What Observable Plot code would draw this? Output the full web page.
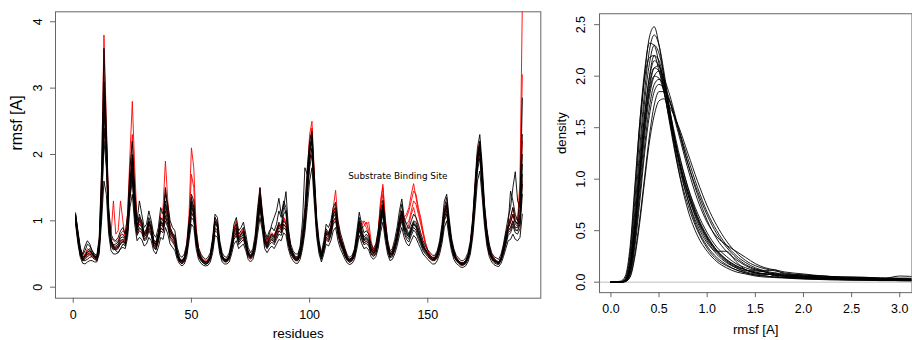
<!DOCTYPE html>
<html><head><meta charset="utf-8">
<script src="https://cdn.jsdelivr.net/npm/d3@7"></script>
<script src="https://cdn.jsdelivr.net/npm/@observablehq/plot@0.6"></script>
<style>
html,body{margin:0;padding:0;background:#fff;}
#fig{position:relative;width:912px;height:340px;overflow:hidden;background:#fff;}
#left{position:absolute;left:0;top:0;}
#right{position:absolute;left:530px;top:0;}
</style></head><body><div id="fig"><div id="left"></div><div id="right"></div></div>
<script>
// ---- left panel data: per-residue RMSF of simulation runs ----
const residues = d3.range(1, 191);

const blackRun1 = [
1.05,.78,.52,.42,.45,.50,.52,.50,.45,.44,
.60,1.30,2.60,2.10,1.00,.68,.60,.60,.62,.70,
.72,.68,.90,1.50,1.80,1.20,.85,.95,.90,.75,
.80,.95,.85,.65,.60,.75,.95,.90,1.15,1.00,
.80,.75,.70,.50,.40,.38,.42,.55,.85,1.20,
1.10,.70,.50,.42,.38,.36,.38,.45,.65,.95,
.90,.60,.45,.40,.40,.45,.60,.80,.85,.70,
.75,.80,.65,.50,.45,.50,.65,1.00,1.30,1.00,
.70,.62,.70,.75,.70,.80,.90,.85,1.00,.95,
.70,.55,.48,.42,.42,.50,.70,1.00,1.50,2.00,
2.20,1.50,.90,.60,.45,.60,.80,.75,.85,1.05,
1.10,.85,.70,.60,.50,.42,.40,.42,.50,.70,
.95,.80,.70,.72,.68,.55,.50,.55,.70,1.00,
1.20,.85,.60,.48,.50,.60,.75,.95,1.10,.90,
.80,.75,.85,.95,.90,.80,.70,.60,.55,.50,
.45,.42,.42,.48,.60,.80,1.10,1.20,.90,.65,
.50,.42,.38,.35,.35,.38,.45,.60,.90,1.40,
1.90,2.10,1.60,1.10,.75,.55,.45,.40,.38,.36,
.42,.55,.70,.85,.90,1.00,.90,.90,1.00,1.70];

const blackRun2 = [
1.10,.85,.60,.48,.55,.65,.62,.55,.50,.48,
.75,1.80,3.60,2.40,1.20,.80,.72,.70,.75,.85,
.90,.80,1.10,1.80,2.20,1.50,1.00,1.30,1.10,.90,
.95,1.15,1.00,.80,.75,.90,1.20,1.10,1.40,1.25,
1.00,.90,.85,.60,.48,.45,.50,.65,1.00,1.40,
1.30,.85,.60,.50,.45,.42,.45,.52,.75,1.10,
1.05,.70,.52,.46,.45,.52,.70,.95,1.05,.85,
.90,.98,.80,.60,.52,.58,.80,1.20,1.50,1.15,
.85,.75,.85,.90,.85,.95,1.15,1.05,1.30,1.20,
.85,.65,.55,.50,.50,.60,.85,1.20,1.80,2.20,
2.35,1.70,1.05,.70,.52,.70,.95,.90,1.00,1.20,
1.28,1.00,.82,.70,.58,.48,.45,.48,.58,.85,
1.13,.95,.82,.85,.80,.65,.58,.65,.85,1.15,
1.31,1.00,.72,.55,.58,.72,.90,1.15,1.33,1.05,
.95,.88,1.00,1.10,1.05,.95,.82,.70,.62,.56,
.52,.48,.48,.55,.70,.95,1.30,1.40,1.05,.75,
.58,.48,.44,.40,.40,.44,.52,.70,1.05,1.60,
2.10,2.30,1.85,1.25,.88,.65,.52,.46,.44,.42,
.50,.65,.85,1.05,1.20,1.50,1.74,1.30,1.20,2.85];

const blackRun3 = [
.95,.65,.45,.36,.35,.38,.40,.40,.38,.38,
.50,1.00,1.60,1.40,.80,.55,.50,.50,.52,.58,
.60,.58,.75,1.20,1.40,.95,.70,.75,.72,.62,
.65,.75,.70,.55,.50,.60,.75,.72,.90,.80,
.65,.60,.55,.42,.35,.32,.35,.45,.70,.95,
.90,.58,.42,.36,.33,.32,.33,.38,.52,.78,
.75,.50,.38,.35,.35,.38,.50,.65,.70,.58,
.62,.65,.55,.42,.38,.42,.55,.80,1.05,.85,
.58,.52,.58,.62,.58,.65,.72,.70,.82,.78,
.58,.46,.40,.36,.36,.42,.58,.82,1.20,1.60,
1.80,1.25,.75,.50,.38,.50,.65,.62,.70,.85,
.90,.70,.58,.50,.42,.36,.34,.36,.42,.58,
.78,.66,.58,.60,.56,.46,.42,.46,.58,.82,
.98,.70,.50,.40,.42,.50,.62,.78,.90,.75,
.66,.62,.70,.78,.74,.66,.58,.50,.46,.42,
.38,.35,.35,.40,.50,.66,.90,1.00,.75,.55,
.42,.36,.33,.30,.30,.32,.38,.50,.75,1.15,
1.60,1.75,1.35,.92,.62,.46,.38,.34,.32,.31,
.36,.46,.58,.70,.72,.80,.72,.70,.75,1.10];

const blackRun4 = [
1.08,.82,.58,.50,.62,.70,.65,.55,.48,.46,
.68,1.55,3.10,2.30,1.10,.72,.62,.55,.52,.58,
.65,.62,.85,1.40,2.00,1.35,.90,1.05,1.00,.82,
.88,1.05,.95,.72,.68,.82,1.05,1.00,1.30,1.10,
.85,.80,.78,.55,.44,.40,.45,.60,.95,1.35,
1.20,.78,.55,.46,.40,.38,.40,.48,.70,1.05,
.98,.65,.48,.42,.42,.48,.65,.88,.95,.80,
.85,.90,.72,.55,.48,.55,.72,1.10,1.40,1.10,
.80,.72,.80,.95,1.05,1.15,1.34,1.10,1.25,1.10,
.80,.60,.52,.46,.46,.62,1.00,1.80,1.70,2.10,
2.30,1.60,.95,.65,.48,.65,.88,.82,.92,1.15,
1.20,.92,.75,.65,.55,.45,.42,.45,.55,.78,
1.05,.88,.75,.80,.75,.60,.55,.60,.78,1.08,
1.25,.92,.65,.52,.55,.65,.82,1.05,1.25,.98,
.88,.80,.92,1.00,.98,.88,.75,.65,.58,.52,
.48,.45,.45,.52,.65,.88,1.20,1.35,1.00,.70,
.55,.45,.40,.37,.37,.40,.48,.65,.98,1.50,
2.00,2.20,1.75,1.20,.82,.60,.48,.43,.40,.38,
.45,.60,.80,.95,1.45,1.30,1.10,1.00,1.35,2.30];

const blackRun5 = [
1.00,.70,.48,.40,.40,.42,.45,.46,.42,.40,
.55,1.15,2.20,1.80,.90,.62,.56,.58,.60,.65,
.68,.64,.82,1.35,1.60,1.05,.78,.85,.82,.70,
.72,.85,.78,.60,.56,.68,.85,.82,1.00,.90,
.72,.68,.62,.46,.38,.35,.38,.50,.78,1.05,
1.00,.65,.46,.40,.36,.34,.36,.42,.58,.85,
.82,.55,.42,.38,.38,.42,.55,.72,.78,.64,
.68,.72,.60,.46,.42,.46,.60,.90,1.18,.92,
.64,.58,.64,.68,.64,.72,.80,.78,.90,.86,
.64,.50,.44,.40,.40,.46,.64,.90,1.35,1.80,
2.00,1.38,.82,.55,.42,.55,.72,.68,.78,.95,
1.00,.78,.64,.55,.46,.40,.37,.40,.46,.64,
.86,.72,.64,.66,.62,.50,.46,.50,.64,.90,
1.10,.78,.55,.44,.46,.55,.68,.86,1.00,.82,
.72,.68,.78,.86,.82,.72,.64,.55,.50,.46,
.42,.40,.40,.44,.55,.72,1.00,1.10,.82,.60,
.46,.40,.36,.33,.33,.35,.42,.55,.82,1.28,
1.75,1.95,1.48,1.00,.68,.50,.42,.37,.35,.34,
.40,.50,.64,.78,.82,.92,.82,.80,.88,1.40];

const blackRun6 = [
1.12,.80,.55,.45,.48,.55,.58,.52,.47,.45,
.65,1.40,2.90,2.20,1.05,.70,.64,.65,.68,.78,
.80,.74,.95,1.60,1.95,1.30,.92,1.10,.98,.80,
.85,1.00,.90,.70,.65,.80,1.00,.95,1.50,1.15,
.90,.82,.75,.52,.42,.40,.44,.58,.90,1.28,
1.15,.75,.52,.44,.40,.38,.40,.46,.68,1.00,
.95,.62,.47,.42,.42,.46,.62,.85,.90,.74,
.80,.85,.68,.52,.46,.52,.68,1.05,1.35,1.05,
.74,.66,.74,.80,.76,.86,.98,.92,1.20,1.44,
.90,.60,.50,.44,.44,.55,.75,1.05,1.60,2.10,
2.25,1.55,.92,.62,.47,.62,.84,.80,.90,1.10,
1.15,.88,.72,.62,.52,.44,.41,.44,.52,.74,
1.00,.84,.72,.76,.72,.58,.52,.58,.74,1.05,
1.22,.88,.62,.50,.52,.62,.78,1.00,1.15,.94,
.84,.78,.88,.98,.94,.84,.72,.62,.56,.50,
.46,.43,.43,.50,.62,.84,1.15,1.28,.95,.68,
.52,.43,.39,.36,.36,.39,.46,.62,.95,1.45,
1.95,2.15,1.65,1.12,.78,.56,.46,.41,.39,.37,
.44,.58,.75,.90,1.05,1.20,1.00,.95,1.10,2.00];

const blackRun7 = [
1.02,.74,.50,.41,.43,.47,.50,.48,.44,.42,
.58,1.20,2.40,1.95,.95,.66,.58,.56,.58,.66,
.70,.66,.86,1.42,1.70,1.12,.82,.90,.86,.72,
.76,.90,.82,.62,.58,.72,.90,.86,1.08,.95,
.76,.72,.66,.48,.39,.36,.40,.52,.82,1.12,
1.05,.68,.48,.41,.37,.35,.37,.44,.62,.90,
.86,.58,.44,.39,.39,.44,.58,.76,.82,.67,
.72,.76,.62,.48,.44,.48,.62,.95,1.24,.96,
.67,.60,.67,.72,.67,.76,.85,.82,.95,.90,
.67,.52,.46,.41,.41,.48,.67,.95,1.42,1.90,
2.10,1.44,.86,.58,.44,.58,.76,.72,.82,1.00,
1.05,.82,.67,.58,.48,.41,.39,.41,.48,.67,
.90,.76,.67,.69,.65,.52,.48,.52,.67,.95,
1.15,.82,.58,.46,.48,.58,.72,.90,1.05,.86,
.76,.72,.82,.90,.86,.76,.67,.58,.52,.48,
.44,.41,.41,.46,.58,.76,1.05,1.15,.86,.62,
.48,.41,.37,.34,.34,.37,.44,.58,.86,1.34,
1.82,2.02,1.54,1.05,.72,.52,.44,.39,.37,.35,
.41,.52,.67,.82,.86,.96,.86,.85,.95,1.55];

const blackRun8 = [
1.08,.80,.54,.44,.47,.53,.55,.51,.46,.45,
.63,1.36,2.80,2.15,1.03,.70,.62,.62,.65,.74,
.76,.71,.92,1.55,1.88,1.25,.88,1.02,.94,.78,
.82,.98,.88,.68,.63,.78,.98,.92,1.25,1.08,
.85,.78,.72,.51,.41,.39,.43,.56,.88,1.24,
1.12,.72,.51,.43,.39,.37,.39,.46,.66,.98,
.92,.61,.46,.41,.41,.46,.61,.82,.88,.72,
.78,.82,.66,.51,.46,.51,.66,1.02,1.32,1.02,
.72,.64,.72,.78,.73,.83,.94,.88,1.10,1.15,
.80,.58,.49,.43,.43,.52,.72,1.02,1.55,2.05,
2.22,1.52,.91,.61,.46,.61,.82,.78,.88,1.08,
1.12,.86,.71,.61,.51,.43,.40,.43,.51,.72,
.98,.82,.71,.74,.70,.56,.51,.56,.72,1.02,
1.21,.86,.61,.49,.51,.61,.76,.98,1.12,.92,
.82,.76,.86,.96,.92,.82,.71,.61,.55,.50,
.45,.42,.42,.49,.61,.82,1.12,1.24,.92,.66,
.51,.42,.38,.35,.35,.38,.45,.61,.92,1.42,
1.92,2.12,1.62,1.10,.76,.55,.45,.40,.38,.36,
.43,.56,.72,.88,.98,1.10,.95,.92,1.05,1.85];

const redRun1 = [
1.05,.75,.55,.45,.50,.58,.55,.50,.46,.45,
.70,1.70,3.80,2.50,1.15,.75,.70,.68,.70,.80,
.85,.80,1.10,2.00,2.80,1.80,1.00,1.05,.95,.80,
.85,1.00,.90,.70,.65,.80,1.10,1.20,1.90,1.30,
.90,.80,.72,.52,.42,.40,.46,.65,1.10,2.10,
1.80,.90,.58,.48,.42,.40,.42,.48,.70,1.05,
.95,.62,.46,.42,.42,.48,.65,.90,1.00,.80,
.82,.88,.70,.52,.46,.52,.70,1.10,1.50,1.10,
.80,.70,.78,.82,.78,.88,.95,.90,1.05,1.00,
.75,.58,.50,.45,.45,.55,.75,1.10,1.70,2.30,
2.50,1.70,1.00,.65,.48,.62,.85,.80,.92,1.20,
1.46,1.00,.78,.65,.55,.45,.42,.45,.55,.75,
1.00,.88,.92,.98,.85,.62,.55,.62,.85,1.30,
1.55,1.05,.68,.52,.55,.65,.80,1.00,1.15,1.05,
1.10,1.20,1.40,1.56,1.35,1.15,1.00,.80,.65,.55,
.48,.45,.45,.52,.65,.88,1.15,1.25,.95,.70,
.55,.45,.40,.37,.37,.40,.48,.65,1.00,1.55,
2.00,2.20,1.70,1.20,.85,.62,.50,.44,.40,.38,
.45,.60,.78,.95,1.05,1.20,1.05,1.00,1.60,4.30];

const redRun2 = [
1.00,.72,.50,.42,.45,.50,.50,.48,.44,.42,
.62,1.40,3.20,2.30,1.10,.80,1.30,.80,.85,1.30,
1.00,.72,.95,1.70,2.30,1.50,.95,1.00,.92,.78,
.82,.95,.88,.68,.62,.78,1.00,1.05,1.50,1.20,
.85,.78,.70,.50,.40,.38,.42,.58,.95,1.70,
1.50,.80,.55,.45,.40,.38,.40,.48,.68,1.00,
.92,.60,.46,.40,.40,.46,.62,.85,.98,.78,
.80,.85,.68,.50,.45,.50,.66,1.05,1.45,1.08,
.76,.68,.76,.80,.75,.85,.92,.88,1.02,.96,
.72,.56,.48,.43,.43,.52,.72,1.05,1.60,2.20,
2.40,1.60,.95,.62,.46,.60,.82,.78,.88,1.10,
1.25,.92,.74,.62,.52,.44,.42,.44,.52,.72,
.98,1.00,.96,.90,.80,.60,.52,.58,.80,1.25,
1.50,1.00,.65,.50,.52,.62,.78,.98,1.10,1.00,
1.05,1.15,1.30,1.45,1.40,1.20,1.05,.85,.68,.56,
.48,.44,.44,.50,.62,.85,1.10,1.20,.92,.68,
.52,.44,.39,.36,.36,.39,.46,.62,.98,1.50,
2.00,2.15,1.68,1.15,.82,.60,.48,.42,.39,.37,
.44,.58,.75,.90,1.00,1.10,1.00,.95,1.50,3.20];

const redRun3 = [
1.02,.74,.52,.43,.46,.52,.54,.50,.45,.43,
.62,1.35,2.80,2.10,1.00,.70,.62,.60,.62,.70,
.72,.70,.90,1.55,2.00,1.30,.88,.98,.92,.78,
.82,.98,.88,.68,.62,.78,.98,.94,1.20,1.05,
.82,.76,.70,.50,.40,.38,.43,.56,.88,1.30,
1.20,.75,.52,.44,.40,.38,.40,.46,.66,.98,
.92,.60,.46,.41,.41,.46,.62,.84,.92,.76,
.80,.84,.68,.52,.46,.52,.68,1.05,1.35,1.05,
.74,.66,.74,.80,.76,.86,.95,.90,1.05,.98,
.74,.58,.50,.44,.44,.52,.72,1.02,1.55,2.05,
2.25,1.55,.92,.62,.47,.62,.82,.78,.88,1.10,
1.18,.90,.74,.64,.54,.45,.42,.45,.52,.72,
.95,.92,1.00,.95,.98,.70,.55,.60,.80,1.20,
1.40,.95,.65,.50,.52,.62,.80,1.00,1.15,1.00,
.95,1.00,1.15,1.30,1.25,1.10,.95,.80,.65,.55,
.48,.44,.44,.50,.62,.84,1.12,1.22,.92,.68,
.52,.44,.39,.36,.36,.39,.46,.62,.96,1.48,
1.98,2.18,1.70,1.15,.82,.60,.48,.42,.39,.37,
.44,.58,.76,.90,.98,1.08,.98,.95,1.20,2.20];

const redRun4 = [
.98,.70,.48,.40,.42,.46,.48,.46,.42,.41,
.56,1.20,2.40,1.90,.92,.64,.58,.58,.60,.66,
.70,.66,.84,1.40,1.70,1.12,.80,.88,.85,.72,
.75,.88,.80,.62,.58,.70,.88,.86,1.05,.95,
.76,.70,.65,.48,.38,.36,.40,.52,.82,1.15,
1.05,.68,.48,.41,.37,.35,.37,.43,.60,.88,
.85,.56,.43,.39,.39,.43,.57,.75,.82,.68,
.72,.76,.62,.48,.43,.48,.62,.92,1.22,.95,
.68,.60,.68,.72,.68,.76,.85,.82,.95,.90,
.66,.52,.45,.40,.40,.47,.66,.94,1.40,1.90,
2.10,1.42,.85,.57,.43,.57,.75,.70,.80,.98,
1.05,.80,.66,.57,.47,.40,.38,.40,.47,.66,
.88,.74,.66,.70,.66,.52,.48,.52,.68,.95,
1.15,.82,.58,.46,.48,.57,.70,.90,1.05,.86,
.86,.95,1.10,1.20,1.05,.90,.78,.66,.56,.48,
.44,.41,.41,.46,.57,.76,1.05,1.15,.86,.62,
.48,.41,.37,.34,.34,.36,.43,.57,.86,1.35,
1.85,2.05,1.55,1.05,.72,.52,.44,.39,.36,.35,
.42,.55,.72,.85,.90,1.00,.88,.85,1.00,1.60];

const blackRuns = [blackRun1, blackRun2, blackRun3, blackRun4, blackRun5, blackRun6, blackRun7, blackRun8];
const redRuns = [redRun1, redRun2, redRun3, redRun4];

// ---- right panel data: density curves of rmsf ----
const rmsfGrid = [0, .1, .15, .2, .25, .3, .35, .4, .45, .5, .55, .6, .7, .8, .9, 1.0, 1.1, 1.2, 1.3, 1.4, 1.5, 1.6, 1.7, 1.8, 2.0, 2.2, 2.4, 2.6, 2.8, 3.0, 3.2];
const dens1  = [0,0,.03,.25,.80,1.45,2.00,2.38,2.48,2.30,2.00,1.68,1.10,.70,.45,.30,.20,.14,.10,.08,.06,.05,.045,.04,.03,.025,.02,.02,.015,.015,.01];
const dens2  = [0,0,.02,.20,.70,1.30,1.85,2.25,2.40,2.30,2.05,1.75,1.20,.80,.52,.35,.24,.17,.12,.09,.07,.06,.05,.045,.035,.03,.025,.02,.02,.015,.015];
const dens3  = [0,0,.02,.18,.62,1.20,1.75,2.12,2.30,2.22,2.00,1.72,1.22,.85,.58,.40,.27,.19,.14,.10,.08,.07,.09,.06,.04,.03,.03,.025,.02,.02,.015];
const dens4  = [0,0,.015,.15,.55,1.10,1.62,2.00,2.20,2.15,1.95,1.70,1.22,.88,.62,.43,.30,.21,.15,.12,.10,.08,.07,.06,.05,.04,.035,.03,.025,.02,.02];
const dens5  = [0,0,.02,.16,.58,1.12,1.62,1.98,2.15,2.10,1.92,1.68,1.20,.85,.60,.42,.29,.20,.14,.11,.12,.10,.06,.05,.04,.04,.03,.03,.02,.02,.02];
const dens6  = [0,0,.01,.12,.48,1.00,1.50,1.88,2.08,2.10,1.95,1.72,1.28,.92,.64,.45,.31,.22,.16,.12,.09,.08,.07,.06,.05,.04,.035,.03,.025,.02,.02];
const dens7  = [0,0,.01,.10,.42,.92,1.42,1.80,2.00,2.05,1.98,1.85,1.50,1.15,.85,.60,.42,.30,.22,.16,.12,.10,.08,.07,.06,.05,.04,.035,.03,.025,.02];
const dens8  = [0,0,.02,.14,.52,1.02,1.50,1.85,2.00,1.98,1.85,1.65,1.25,.92,.67,.48,.34,.25,.18,.14,.11,.10,.08,.07,.06,.05,.04,.04,.03,.06,.05];
const dens9  = [0,0,.01,.10,.40,.85,1.32,1.70,1.92,1.97,1.92,1.80,1.48,1.15,.88,.65,.47,.34,.24,.17,.13,.11,.12,.08,.06,.05,.045,.04,.035,.03,.03];
const dens10 = [0,0,.005,.06,.28,.62,1.02,1.42,1.72,1.85,1.85,1.78,1.50,1.20,.92,.68,.50,.36,.26,.19,.14,.11,.09,.08,.07,.06,.05,.045,.04,.035,.03];
const dens11 = [0,0,.005,.05,.25,.58,.98,1.36,1.62,1.76,1.78,1.72,1.52,1.25,.98,.74,.55,.40,.29,.21,.16,.13,.11,.09,.07,.06,.05,.05,.04,.04,.035];
const dens12 = [0,.005,.04,.30,.90,1.55,2.05,2.32,2.30,2.12,1.88,1.60,1.10,.75,.50,.33,.22,.16,.12,.09,.07,.06,.05,.045,.035,.03,.025,.02,.02,.015,.015];
const dens13 = [0,0,.015,.14,.50,1.05,1.55,1.92,2.08,2.05,1.88,1.62,1.15,.80,.55,.38,.30,.30,.20,.12,.09,.08,.07,.06,.05,.04,.035,.03,.025,.02,.02];
const dens14 = [0,0,.01,.08,.35,.78,1.25,1.62,1.85,1.92,1.88,1.78,1.45,1.10,.80,.58,.44,.36,.30,.24,.18,.14,.12,.10,.08,.06,.05,.045,.04,.035,.03];
const dens15 = [0,.01,.06,.35,.95,1.55,1.98,2.18,2.20,2.05,1.85,1.62,1.20,.88,.62,.44,.31,.22,.16,.12,.09,.08,.07,.06,.05,.04,.03,.03,.025,.02,.02];
const densityCurves = [dens1, dens2, dens3, dens4, dens5, dens6, dens7, dens8, dens9, dens10, dens11, dens12, dens13, dens14, dens15];

const leftXTicks = [0, 50, 100, 150];
const leftYTicks = [0, 1, 2, 3, 4];
const rightXTicks = [0, 0.5, 1, 1.5, 2, 2.5, 3];
const rightYTicks = [0, 0.5, 1, 1.5, 2, 2.5];
const annotations = [{label: "Substrate Binding Site", residue: 137.3, rmsf: 1.67}];

// ---- checks & tables ----
[...blackRuns, ...redRuns].forEach((r, i) => { if (r.length !== residues.length) throw new Error("run " + i + " has " + r.length); });
densityCurves.forEach((c, i) => { if (c.length !== rmsfGrid.length) throw new Error("density " + i + " has " + c.length); });
const toRows = (runs, tag) => runs.flatMap((vals, i) => vals.map((v, j) => ({run: tag + i, residue: residues[j], rmsf: v})));
const blackRows = toRows(blackRuns, "b");
const redRows = toRows(redRuns, "r");
const densRows = densityCurves.flatMap((c, i) => c.map((d, j) => ({run: i, rmsf: rmsfGrid[j], density: d})));

const FONT = "'Liberation Sans', Arial, Helvetica, sans-serif";
const AX = "#666";

const left = Plot.plot({
  width: 560, height: 340,
  marginLeft: 55, marginRight: 19.7, marginTop: 11.3, marginBottom: 42.3,
  x: {domain: [-7.5, 197.8]},
  y: {domain: [-0.166, 4.15]},
  style: {fontFamily: FONT, fontSize: "12.5px", color: "#000", background: "transparent"},
  marks: [
    Plot.line(redRows, {x: "residue", y: "rmsf", z: "run", stroke: "#ff0000", strokeWidth: 0.9, clip: true}),
    Plot.line(blackRows, {x: "residue", y: "rmsf", z: "run", stroke: "#000", strokeWidth: 0.9, clip: true}),
    Plot.text(annotations, {x: "residue", y: "rmsf", text: "label", fontFamily: "'DejaVu Sans'", fontSize: 8.9, fill: "#000"}),
    Plot.frame({stroke: AX}),
    Plot.axisX(leftXTicks, {tickSize: 5, tickPadding: 6.5, stroke: AX, fill: "#000", fontSize: 12.5, label: null}),
    Plot.axisY(leftYTicks, {tickSize: 5, stroke: AX, fill: "none", label: null}),
    Plot.text(leftYTicks, {y: d => d, text: d => String(d), frameAnchor: "left", dx: -17.5, rotate: -90, textAnchor: "middle", lineAnchor: "middle", fontSize: 12.5, fill: "#000"}),
    Plot.text(["residues"], {text: d => d, frameAnchor: "bottom", dy: 35.5, lineAnchor: "middle", fontSize: 13.5, fill: "#000"}),
    Plot.text(["rmsf [A]"], {text: d => d, frameAnchor: "left", dx: -39, dy: -4.5, rotate: -90, lineAnchor: "middle", fontSize: 16, fill: "#000"})
  ]
});
document.getElementById("left").appendChild(left);

const right = Plot.plot({
  width: 383.5, height: 340,
  marginLeft: 69.3, marginRight: 0.5, marginTop: 13.3, marginBottom: 46.7,
  x: {domain: [-0.118, 3.127]},
  y: {domain: [-0.1015, 2.606]},
  style: {fontFamily: FONT, fontSize: "12.5px", color: "#000", background: "transparent"},
  marks: [
    Plot.ruleY([0], {stroke: "#bebebe", strokeWidth: 1}),
    Plot.line(densRows, {x: "rmsf", y: "density", z: "run", stroke: "#000", strokeWidth: 0.9, curve: "monotone-x", clip: true}),
    Plot.frame({stroke: AX}),
    Plot.axisX(rightXTicks, {tickSize: 5, tickPadding: 6.7, stroke: AX, fill: "#000", fontSize: 12.5, label: null, tickFormat: d3.format(".1f")}),
    Plot.axisY(rightYTicks, {tickSize: 5, stroke: AX, fill: "none", label: null}),
    Plot.text(rightYTicks, {y: d => d, text: d => d3.format(".1f")(d), frameAnchor: "left", dx: -18.3, rotate: -90, textAnchor: "middle", lineAnchor: "middle", fontSize: 12.5, fill: "#000"}),
    Plot.text(["rmsf [A]"], {text: d => d, frameAnchor: "bottom", dy: 37.6, lineAnchor: "middle", fontSize: 13.3, fill: "#000"}),
    Plot.text(["density"], {text: d => d, frameAnchor: "left", dx: -38.3, dy: 0.9, rotate: -90, lineAnchor: "middle", fontSize: 13.3, fill: "#000"})
  ]
});
document.getElementById("right").appendChild(right);
</script></body></html>
